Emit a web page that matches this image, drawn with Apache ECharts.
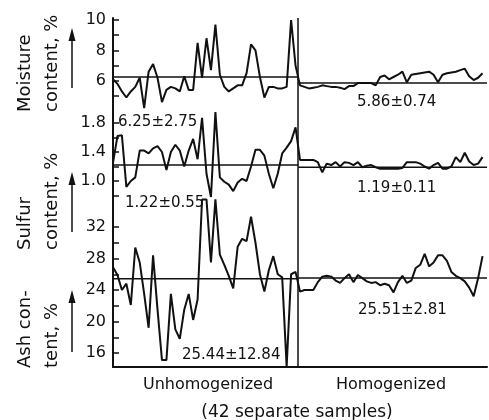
<!DOCTYPE html>
<html><head><meta charset="utf-8">
<script src="https://cdn.jsdelivr.net/npm/echarts@6/dist/echarts.min.js"></script>
<style>html,body{margin:0;padding:0;background:#fff}#c{width:489px;height:420px}</style>
</head><body><div id="c"></div>
<script>
// ---- data ----
const moistureUnhom = [6.1,5.8,5.3,4.9,5.3,5.6,6.2,4.2,6.6,7.1,6.2,4.6,5.4,5.6,5.5,5.3,6.3,5.4,5.4,8.5,6.2,8.8,6.7,9.7,6.4,5.6,5.3,5.5,5.7,5.7,6.5,8.4,8.0,6.25,4.9,5.6,5.6,5.5,5.5,5.6,10.0,7.0];
const moistureHom = [5.7,5.6,5.5,5.55,5.6,5.7,5.65,5.6,5.6,5.55,5.45,5.65,5.65,5.85,5.85,5.85,5.85,5.7,6.25,6.35,6.1,6.25,6.4,6.6,5.9,6.4,6.45,6.5,6.55,6.6,6.4,5.9,6.4,6.5,6.55,6.6,6.7,6.8,6.3,6.05,6.2,6.5];
const sulfurUnhom = [1.25,1.62,1.63,0.92,1.0,1.05,1.42,1.42,1.38,1.45,1.48,1.4,1.15,1.4,1.5,1.42,1.2,1.42,1.58,1.3,1.87,1.1,0.78,1.95,1.05,0.99,0.95,0.86,0.98,1.03,1.0,1.2,1.43,1.43,1.35,1.1,0.9,1.1,1.38,1.46,1.55,1.74];
const sulfurHom = [1.29,1.29,1.29,1.29,1.26,1.12,1.24,1.22,1.26,1.2,1.26,1.25,1.22,1.26,1.19,1.21,1.22,1.19,1.17,1.17,1.17,1.17,1.17,1.18,1.26,1.26,1.26,1.24,1.2,1.17,1.22,1.25,1.17,1.17,1.2,1.33,1.26,1.39,1.27,1.22,1.24,1.33];
const ashUnhom = [26.9,25.9,24.0,24.8,22.1,29.4,27.5,23.5,19.2,28.4,21.5,15.1,15.1,23.5,19.0,17.8,21.5,23.5,20.2,22.8,35.5,35.5,27.5,35.5,28.5,27.2,25.8,24.2,29.5,30.5,30.2,33.3,30.0,26.0,23.8,26.5,28.3,26.0,25.6,14.3,26.0,26.3];
const ashHom = [23.8,24.0,24.0,24.0,25.0,25.7,25.8,25.7,25.2,24.9,25.5,26.0,25.0,25.9,25.5,25.1,24.9,25.0,24.6,24.8,24.6,23.7,25.0,25.8,24.9,25.2,26.8,27.2,28.6,27.0,27.5,28.4,28.4,27.7,26.3,25.8,25.5,25.1,24.3,23.2,25.5,28.3];
const means = { moisture: [6.25, 5.86], sulfur: [1.22, 1.19], ash: [25.44, 25.51] };
const statLabels = ['6.25\u00b12.75','5.86\u00b10.74','1.22\u00b10.55','1.19\u00b10.11','25.44\u00b112.84','25.51\u00b12.81'];
const moistureTicks = ['6','8','10'];
const sulfurTicks = ['1.0','1.4','1.8'];
const ashTicks = ['16','20','24','28','32'];
const groupLabels = ['Unhomogenized','Homogenized','(42 separate samples)'];
const axisTitles = [['Moisture','content, %'],['Sulfur','content, %'],['Ash con-','tent, %']];
const samplesPerGroup = 42;

// ---- build ----
const N = samplesPerGroup;
const divider = N - 0.4;
function pts(a, b){ return a.concat(b).map((v,i)=>[i, v]); }
function meanSeg(m, gi){
  return [
    {type:'line', xAxisIndex:gi, yAxisIndex:gi, data:[[0,m[0]],[divider,m[0]]], symbol:'none', clip:false, lineStyle:{color:'#111',width:1.5}, silent:true},
    {type:'line', xAxisIndex:gi, yAxisIndex:gi, data:[[divider,m[1]],[2*N,m[1]]], symbol:'none', clip:false, lineStyle:{color:'#111',width:1.5}, silent:true}
  ];
}
const FONT = 'DejaVu Sans';
const L = 113, R = 2;
function lblFmt(list, dec){ return v => { const s = dec ? v.toFixed(dec) : String(Math.round(v)); return list.includes(s) ? s : ''; }; }
function panelY(gi, min, max, interval, list, dec){
  return {type:'value', gridIndex:gi, min, max, interval,
    axisLine:{show:false}, splitLine:{show:false},
    axisTick:{show:true, inside:true, length:6, lineStyle:{color:'#111', width:1.5}},
    axisLabel:{formatter: lblFmt(list, dec), color:'#111', fontSize:16, fontFamily:FONT, margin:7, showMinLabel:true, showMaxLabel:true}};
}
const dataLine = {type:'line', symbol:'none', clip:false, lineStyle:{color:'#111', width:2}, silent:true};

const option = {
  animation:false,
  backgroundColor:'#fff',
  grid:[
    {left:L, right:R, top:18, bottom:53},
    {left:L, right:R, top:20, height:76},
    {left:L, right:R, top:123, height:72.5},
    {left:L, right:R, top:227, height:126}
  ],
  xAxis:[0,1,2,3].map(gi=>({type:'value', gridIndex:gi, min:0, max:2*N, show: gi===0,
    axisLine:{show:true, onZero:false, lineStyle:{color:'#111', width:2}}, axisTick:{show:false}, axisLabel:{show:false}, splitLine:{show:false}})),
  yAxis:[
    {type:'value', gridIndex:0, min:0, max:1, axisLine:{show:true, lineStyle:{color:'#111', width:2}}, axisTick:{show:false}, axisLabel:{show:false}, splitLine:{show:false}},
    panelY(1, 5, 10, 1, moistureTicks, 0),
    panelY(2, 0.8, 1.8, 0.2, sulfurTicks, 1),
    panelY(3, 16, 32, 2, ashTicks, 0)
  ],
  series:[
    {type:'line', xAxisIndex:0, yAxisIndex:0, data:[], markLine:{silent:true, symbol:'none', label:{show:false}, lineStyle:{color:'#111', width:1.5, type:'solid'}, data:[{xAxis:divider}]}},
    Object.assign({}, dataLine, {xAxisIndex:1, yAxisIndex:1, data:pts(moistureUnhom, moistureHom)}),
    Object.assign({}, dataLine, {xAxisIndex:2, yAxisIndex:2, data:pts(sulfurUnhom, sulfurHom)}),
    Object.assign({}, dataLine, {xAxisIndex:3, yAxisIndex:3, data:pts(ashUnhom, ashHom)}),
    ...meanSeg(means.moisture, 1),
    ...meanSeg(means.sulfur, 2),
    ...meanSeg(means.ash, 3)
  ],
  graphic:[]
};

// stat labels
const statPos = [[118,122],[357,102],[125,203],[357,188],[182,355],[358,310]];
statLabels.forEach((t,i)=>option.graphic.push({type:'text', x:statPos[i][0], y:statPos[i][1], silent:true,
  style:{text:t, fill:'#111', font:'15px "'+FONT+'"', textAlign:'left', textVerticalAlign:'middle'}}));
// group labels
const gPos = [[208,385,16],[391,385,16],[297,413,17]];
groupLabels.forEach((t,i)=>option.graphic.push({type:'text', x:gPos[i][0], y:gPos[i][1], silent:true,
  style:{text:t, fill:'#111', font:gPos[i][2]+'px "'+FONT+'"', textAlign:'center', textVerticalAlign:'middle'}}));
// axis titles (rotated) and arrows
const titleBase = [112, 250, 368];
const arrows = [[88,28],[232,172],[352,290]];
axisTitles.forEach((pair,i)=>{
  pair.forEach((t,j)=>option.graphic.push({type:'text', x:[25,52][j], y:titleBase[i], rotation:Math.PI/2, silent:true,
    style:{text:t, fill:'#111', font:'18px "'+FONT+'"', textAlign:'left', textVerticalAlign:'middle'}}));
  const [y0,y1] = arrows[i];
  option.graphic.push({type:'line', silent:true, shape:{x1:72, y1:y0, x2:72, y2:y1+10}, style:{stroke:'#111', lineWidth:1.5}});
  option.graphic.push({type:'polygon', silent:true, shape:{points:[[72,y1],[68.5,y1+13],[75.5,y1+13]]}, style:{fill:'#111'}});
});

const chart = echarts.init(document.getElementById('c'), null, {renderer:'canvas'});
chart.setOption(option);
</script></body></html>
